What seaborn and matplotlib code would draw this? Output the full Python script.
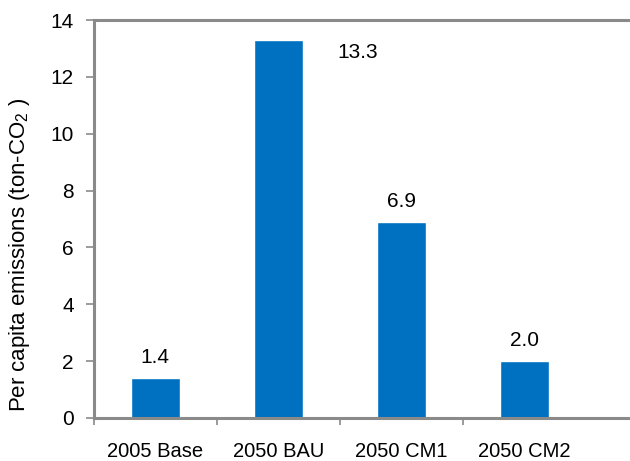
import numpy as np
import pandas as pd
import matplotlib
matplotlib.use('Agg')
import matplotlib.pyplot as plt
import seaborn as sns

# 数据
scenarios = ['2005 Base', '2050 BAU', '2050 CM1', '2050 CM2']
emissions = [1.4, 13.3, 6.9, 2.0]

df = pd.DataFrame({'scenario': scenarios, 'emissions': emissions})

sns.set_theme(style='white')
plt.rcParams['font.family'] = ['Liberation Sans', 'DejaVu Sans']
plt.rcParams['mathtext.fontset'] = 'custom'
plt.rcParams['mathtext.rm'] = 'Liberation Sans'
plt.rcParams['mathtext.it'] = 'Liberation Sans'

fig = plt.figure(figsize=(6.3, 4.61), dpi=100)
ax = fig.add_axes([0.149, 0.0933, 0.851, 0.8633])

sns.barplot(data=df, x='scenario', y='emissions', color='#0070C0',
            saturation=1, width=0.4, ax=ax)

ax.set_ylim(0, 14)
ax.set_yticks(np.arange(0, 15, 2))
ax.set_xlim(-0.5, 3.86)

# 轴线样式
spine_col = '#8A8A8A'
for side in ['left', 'bottom', 'top']:
    ax.spines[side].set_color(spine_col)
    ax.spines[side].set_linewidth(2.2)
ax.spines['right'].set_visible(False)

ax.tick_params(axis='y', which='major', direction='out', length=5.5, width=1.2,
               color=spine_col, labelsize=15, labelcolor='black', pad=9, left=True)
ax.set_xticks(range(len(scenarios)))
ax.set_xticklabels(scenarios)
ax.tick_params(axis='x', which='major', length=0, labelsize=14.5,
               labelcolor='black', pad=17)
ax.set_xticks([-0.5, 0.5, 1.5, 2.5], minor=True)
ax.tick_params(axis='x', which='minor', direction='out', length=5, width=1.2,
               color=spine_col, bottom=True)

ax.set_xlabel('')
ax.set_ylabel('Per capita emissions (ton-CO$_2$ )', fontsize=16, color='black')
ax.yaxis.set_label_coords(-0.116, 0.41)

# 数值标签
for i, v in enumerate(emissions):
    if v > 12:
        ax.annotate(f'{v:.1f}', xy=(i + 0.2, v), xytext=(25, -9), textcoords='offset points',
                    ha='left', va='center', fontsize=15, color='black')
    else:
        ax.annotate(f'{v:.1f}', xy=(i, v), xytext=(0, 8), textcoords='offset points',
                    ha='center', va='bottom', fontsize=15, color='black')

plt.savefig('out.png', dpi=100)
